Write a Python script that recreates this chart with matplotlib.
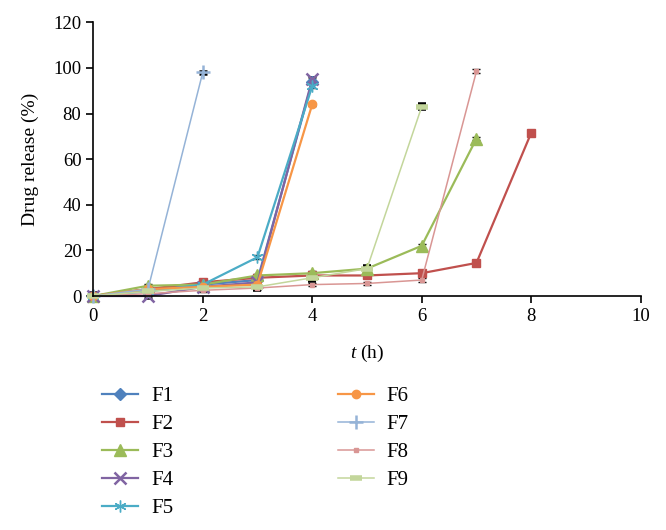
import matplotlib
matplotlib.use("Agg")
import matplotlib.pyplot as plt

plt.rcParams['font.family'] = ['Liberation Serif', 'DejaVu Serif']
plt.rcParams['mathtext.fontset'] = 'custom'
plt.rcParams['mathtext.it'] = 'Liberation Serif:italic'
plt.rcParams['mathtext.rm'] = 'Liberation Serif'

# release data (%)
t_f1 = [0, 1, 2, 3, 4]
f1 = [0, 3, 5, 7, 94]
t_f2 = [0, 1, 2, 3, 4, 5, 6, 7, 8]
f2 = [0, 3, 6, 8, 9, 9, 10, 14.5, 71.5]
t_f3 = [0, 1, 2, 3, 4, 5, 6, 7]
f3 = [0, 4.5, 5, 9, 10, 12, 22, 69]
t_f4 = [0, 1, 2, 3, 4]
f4 = [0, 0, 4, 6, 95]
t_f5 = [0, 1, 2, 3, 4]
f5 = [0, 2, 5, 17, 92]
t_f6 = [0, 1, 2, 3, 4]
f6 = [0, 3, 4, 5, 84]
t_f7 = [0, 1, 2]
f7 = [0, 3, 98]
t_f8 = [0, 1, 2, 3, 4, 5, 6, 7]
f8 = [0, 1, 2.5, 3.5, 5, 5.5, 7, 98.5]
t_f9 = [0, 1, 2, 3, 4, 5, 6]
f9 = [0, 2, 3.5, 4, 8, 12, 83]

series = [
    ("F1", t_f1, f1, "#4F81BD", "D", 6.5, 1.6),
    ("F2", t_f2, f2, "#C0504D", "s", 6, 1.6),
    ("F3", t_f3, f3, "#9BBB59", "^", 8, 1.6),
    ("F4", t_f4, f4, "#8064A2", "x", 8, 1.6),
    ("F5", t_f5, f5, "#4BACC6", (6, 2, 0), 8.5, 1.6),
    ("F6", t_f6, f6, "#F79646", "o", 6, 1.6),
    ("F7", t_f7, f7, "#95B3D7", "+", 10, 1.1),
    ("F8", t_f8, f8, "#D99694", "s", 3.5, 1.1),
    ("F9", t_f9, f9, "#C3D69B", "_", 8, 1.1),
]

fig = plt.figure(figsize=(6.66, 5.3), dpi=100)
ax = fig.add_axes([0.14, 0.4415, 0.822, 0.5165])

for name, t, y, c, m, ms, lw in series:
    ax.errorbar(t, y, yerr=0.8, color=c, marker=m, markersize=ms, lw=lw,
                mew=4 if m == "_" else (1.8 if m in ("x", "+") else 1),
                ecolor="black", elinewidth=1, capsize=3, capthick=1.2,
                label=name, clip_on=False)

ax.set_xlim(0, 10)
ax.set_ylim(0, 120)
ax.set_xticks(range(0, 11, 2))
ax.set_yticks(range(0, 121, 20))
ax.spines['top'].set_visible(False)
ax.spines['right'].set_visible(False)
ax.spines['left'].set_linewidth(1.2)
ax.spines['bottom'].set_linewidth(1.2)
ax.tick_params(labelsize=13.5, length=5, width=1.2)
ax.set_ylabel("Drug release (%)", fontsize=14, labelpad=10)
ax.set_xlabel(r"$t$ (h)", fontsize=14)
ax.xaxis.set_label_coords(0.5, -0.17)

handles, labels = ax.get_legend_handles_labels()
handles = [h[0] for h in handles]
fig.legend(handles, labels, ncol=2, loc="upper left",
           bbox_to_anchor=(0.125, 0.306), frameon=False, fontsize=15,
           columnspacing=7.9, handlelength=1.75, handletextpad=0.6,
           labelspacing=0.4)

fig.savefig("out.png", dpi=100)
